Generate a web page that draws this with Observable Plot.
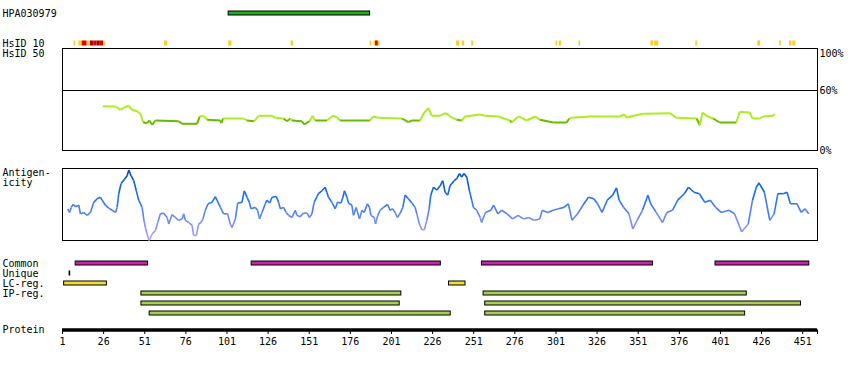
<!DOCTYPE html>
<html><head><meta charset="utf-8">
<script src="https://cdn.jsdelivr.net/npm/d3@7"></script>
<script src="https://cdn.jsdelivr.net/npm/@observablehq/plot@0.6"></script>
<style>
body{margin:0;background:#fff;}
#chart{position:relative;width:850px;height:370px;}
#chart svg{position:absolute;left:0;top:0;}
</style></head><body><div id="chart"></div>
<script>
// ---------- data ----------
const proteinLength = 459;
const antigenName = "HPA030979";
const antigenStart = 102, antigenEnd = 188;

// HsID 10 hits: start, end, level (1 = yellow, 2 = red, 3 = dark red)
const hsidStart = [8, 11, 13, 16, 18, 20, 22, 24, 26, 63, 102, 140, 188, 190.5, 191.3, 193, 240.5, 244, 249.8, 301, 303, 315, 358.7, 361, 386, 423.7, 437, 443, 445];
const hsidEnd   = [9, 13, 16, 18, 20, 22, 24, 26, 27, 65, 104, 141.5, 189, 191.3, 193, 194, 242.5, 245.5, 251, 302, 304.5, 316, 360.5, 363.5, 387, 425.5, 438, 444.5, 446.8];
const hsidLevel = [1, 1, 2, 1, 3, 2, 3, 2, 1, 1, 1, 1, 1, 1, 2, 1, 1, 1, 1, 1, 1, 1, 1, 1, 1, 1, 1, 1, 1];

// HsID 50 identity (%) along the sequence
const idRes = [25.5,33.2,36.2,38.2,41.3,43.3,46.4,48.4,50.0,52.4,53.8,55.5,57.5,71.6,73.7,82.8,84.4,86.8,88.9,97.0,97.6,98.6,111.1,113.2,117.6,120.2,128.4,130.4,135.4,137.5,139.5,140.5,146.6,148.0,151.2,153.0,154.6,161.8,165.4,167.8,169.8,188.0,189.7,193.1,207.3,211.3,213.4,218.4,220.4,223.5,225.5,230.6,233.6,235.6,236.6,240.7,243.7,245.7,254.9,257.9,266.0,273.1,274.1,278.1,280.2,283.2,288.3,291.3,299.4,307.5,309.1,310.5,321.7,339.9,342.3,344.3,347.9,354.4,370.2,374.3,386.5,388.5,390.1,392.5,396.5,400.6,410.7,412.7,418.8,420.5,424.9,426.9,433.0,434.0];
const idVal = [44.3,44,40.7,42.7,44.7,40.7,39.3,36.7,28.3,27.3,30,25.7,30,29.3,26.7,26.7,34,34.7,30.7,30,27.3,32,32,30,29.3,34.7,34.7,32.7,32,29.3,32,30,29.3,26,29.3,34.7,30,30,34.7,33.3,30,30,34,32.7,32,28.3,30,30,36.7,42.7,34.7,34.7,37.3,36,34,30.7,30,34,36,34.7,34,30,28,34,32.7,30,34,30.7,28,28,32,32.7,34,34,36,32.7,34.7,36.7,37.3,32.7,32,25.3,38,34.7,32,28,28,38.7,38,32,32,34,34.7,36.7];

// Antigenicity profile
const agRes = [4.2,5.3,6.3,7.5,8.9,10.9,11.9,13.9,16.0,18.0,20.0,22.1,24.1,25.1,27.1,29.1,31.2,33.2,34.2,35.2,36.6,38.7,40.3,41.3,42.7,44.3,45.9,47.3,49.4,50.4,51.4,52.4,53.7,55.5,57.5,58.9,60.5,62.5,64.6,65.6,67.6,69.6,71.6,73.7,74.7,75.7,77.7,79.8,80.7,82.4,83.8,85.2,86.4,87.8,89.5,91.9,93.9,94.9,97.0,99.0,101.4,103.0,104.1,106.1,107.5,110.1,111.5,113.2,114.6,115.6,118.2,119.6,120.8,122.3,124.3,125.3,126.9,128.4,131.0,132.4,133.4,135.4,137.0,138.4,140.5,142.5,143.5,145.5,147.5,149.6,151.2,152.6,154.0,155.7,156.6,158.7,160.7,161.7,162.7,164.8,166.8,168.2,170.3,171.5,172.4,173.9,174.9,176.9,177.9,179.5,181.6,183.0,184.4,186.4,187.6,188.5,190.5,191.3,192.7,194.1,196.1,198.6,200.2,201.8,203.2,204.6,206.3,207.9,209.3,211.3,213.4,215.4,216.4,218.0,219.4,221.0,222.5,223.9,224.9,226.5,228.6,230.6,232.2,233.6,235.2,236.6,239.1,240.7,242.3,243.7,245.1,246.8,248.4,249.8,250.8,252.8,254.9,255.8,258.1,261.4,263.1,265.7,268.0,271.3,274.6,277.9,281.2,284.4,287.8,291.1,292.7,296.0,299.3,302.6,305.9,308.5,310.8,314.1,317.4,320.7,324.0,326.3,329.0,332.2,335.5,337.8,339.4,342.1,345.4,347.7,350.3,353.6,356.9,358.6,361.9,365.8,368.4,371.8,375.0,379.0,381.6,384.9,388.2,391.5,394.8,398.1,401.4,406.3,409.6,413.9,417.9,420.5,422.8,424.4,427.7,431.0,433.6,435.9,439.2,441.5,443.5,447.5,450.1,452.4,454.7];
const agVal = [0.44,0.39,0.46,0.50,0.47,0.49,0.37,0.39,0.35,0.39,0.53,0.58,0.60,0.56,0.49,0.45,0.42,0.39,0.46,0.65,0.79,0.85,0.90,0.98,0.90,0.83,0.69,0.56,0.46,0.30,0.18,0.09,0.00,0.09,0.14,0.25,0.37,0.38,0.32,0.23,0.36,0.32,0.28,0.30,0.37,0.28,0.25,0.21,0.07,0.07,0.23,0.25,0.30,0.42,0.51,0.53,0.61,0.56,0.46,0.37,0.37,0.23,0.18,0.30,0.52,0.53,0.69,0.60,0.53,0.44,0.46,0.42,0.30,0.39,0.51,0.56,0.52,0.60,0.61,0.53,0.44,0.46,0.39,0.35,0.32,0.42,0.35,0.33,0.38,0.38,0.32,0.37,0.53,0.61,0.65,0.69,0.74,0.67,0.60,0.53,0.44,0.53,0.52,0.60,0.69,0.60,0.52,0.49,0.35,0.46,0.30,0.42,0.39,0.51,0.46,0.35,0.32,0.23,0.35,0.42,0.46,0.50,0.42,0.44,0.39,0.32,0.38,0.46,0.63,0.58,0.52,0.46,0.37,0.23,0.15,0.15,0.28,0.44,0.63,0.74,0.70,0.76,0.83,0.67,0.63,0.76,0.83,0.86,0.93,0.88,0.93,0.88,0.69,0.56,0.46,0.42,0.32,0.25,0.39,0.42,0.49,0.37,0.42,0.37,0.30,0.35,0.30,0.32,0.28,0.30,0.42,0.39,0.42,0.44,0.46,0.51,0.28,0.37,0.49,0.60,0.58,0.51,0.39,0.56,0.63,0.73,0.56,0.46,0.37,0.16,0.28,0.42,0.63,0.51,0.39,0.25,0.39,0.42,0.56,0.65,0.74,0.67,0.65,0.53,0.56,0.46,0.39,0.42,0.37,0.12,0.23,0.56,0.74,0.80,0.67,0.28,0.37,0.65,0.65,0.67,0.51,0.51,0.39,0.44,0.37];

// Region tracks
const trackNames  = ["Common", "Unique", "LC-reg.", "IP-reg."];
const regionTrack = ["Common","Common","Common","Common","LC-reg.","LC-reg.","IP-reg. 1","IP-reg. 1","IP-reg. 2","IP-reg. 2","IP-reg. 3","IP-reg. 3"];
const regionType  = ["Common","Common","Common","Common","LC-reg.","LC-reg.","IP-reg.","IP-reg.","IP-reg.","IP-reg.","IP-reg.","IP-reg."];
const regionStart = [9, 116, 256, 398, 2, 236, 49, 257, 49, 258, 54, 258];
const regionEnd   = [53, 231, 360, 455, 28, 246, 207, 417, 206, 450, 237, 416];
const uniqueStart = [5], uniqueEnd = [6];

const proteinTicks = [1,26,51,76,101,126,151,176,201,226,251,276,301,326,351,376,401,426,451];

// ---------- drawing ----------
const chart = document.getElementById("chart");
const base = () => ({
  width: 850, height: 370, marginLeft: 62, marginRight: 33,
  x: {domain: [1, proteinLength + 1], axis: null},
  style: {background: "transparent", fontFamily: "DejaVu Sans Mono", fontSize: "10px", color: "black", overflow: "visible"}
});
const labelOpts = {frameAnchor: "left", dx: -60, textAnchor: "start", fill: "black"};

// Panel A: antigen + HsID 10
const hsid = hsidStart.map((s, i) => ({start: s, end: hsidEnd[i], level: hsidLevel[i]}));
chart.append(Plot.plot({
  ...base(),
  y: {type: "band", domain: [antigenName, "HsID 10"], range: [-2.5, 57.5], padding: 0, axis: null},
  color: {type: "ordinal", domain: [1, 2, 3], range: ["#ffcc22", "#dd0000", "#aa0000"]},
  marks: [
    Plot.barX([{start: antigenStart, end: antigenEnd}], {x1: "start", x2: "end", y: () => antigenName, fill: "#22aa22", stroke: "black", insetTop: 13, insetBottom: 13}),
    Plot.barX(hsid, {x1: "start", x2: "end", y: () => "HsID 10", fill: "level", insetTop: 12.5, insetBottom: 12.5}),
    Plot.text([antigenName, "HsID 10"], {y: d => d, text: d => d, ...labelOpts})
  ]
}));

// Panel B: HsID 50 identity
const idSegs = idRes.slice(1).map((r, i) => ({x1: idRes[i], x2: r, y1: idVal[i], y2: idVal[i + 1], v: (idVal[i] + idVal[i + 1]) / 2}));
chart.append(Plot.plot({
  ...base(),
  marginTop: 48, marginBottom: 220,
  y: {domain: [0, 102], axis: null},
  color: {type: "threshold", domain: [31], range: ["#66bb00", "#aaee22"]},
  marks: [
    Plot.frame({stroke: "black"}),
    Plot.ruleY([60], {stroke: "black"}),
    Plot.link(idSegs, {x1: "x1", x2: "x2", y1: "y1", y2: "y2", stroke: "v", strokeWidth: 2}),
    Plot.text(["HsID 50"], {text: d => d, frameAnchor: "top-left", dx: -60, dy: 5, lineAnchor: "middle", textAnchor: "start", fill: "black"}),
    Plot.text([0, 60], {y: d => d, text: d => d + "%", frameAnchor: "right", dx: 2, textAnchor: "start", fill: "black"}),
    Plot.text([100], {y: d => d, text: d => d + "%", frameAnchor: "right", dx: 2, dy: 3, textAnchor: "start", fill: "black"})
  ]
}));

// Panel C: antigenicity
const agSegs = agRes.slice(1).map((r, i) => ({x1: agRes[i], x2: r, y1: agVal[i], y2: agVal[i + 1], v: (agVal[i] + agVal[i + 1]) / 2}));
chart.append(Plot.plot({
  ...base(),
  marginTop: 168, marginBottom: 130,
  y: {domain: [0, 1], axis: null},
  color: {type: "linear", domain: [0, 0.3, 0.6, 1], range: ["#b4a4ff", "#6f8cf0", "#1a70f0", "#0048b8"]},
  marks: [
    Plot.frame({stroke: "black"}),
    Plot.link(agSegs, {x1: "x1", x2: "x2", y1: "y1", y2: "y2", stroke: "v", strokeWidth: 1.6}),
    Plot.text(["Antigen-\nicity"], {text: d => d, frameAnchor: "top-left", dx: -60, dy: 0.6, lineAnchor: "top", textAnchor: "start", lineHeight: 1, fill: "black"})
  ]
}));

// Panel D: region tracks
const regions = regionStart.map((s, i) => ({start: s, end: regionEnd[i], track: regionTrack[i], type: regionType[i]}));
const uniques = uniqueStart.map((s, i) => ({start: s, end: uniqueEnd[i]}));
const trackDomain = ["Common", "Unique", "LC-reg.", "IP-reg. 1", "IP-reg. 2", "IP-reg. 3"];
chart.append(Plot.plot({
  ...base(),
  y: {type: "band", domain: trackDomain, range: [257.5, 317.5], padding: 0, axis: null},
  color: {type: "ordinal", domain: ["Common", "LC-reg.", "IP-reg."], range: ["#cc22aa", "#eedd33", "#aacc55"]},
  marks: [
    Plot.barX(regions, {x1: "start", x2: "end", y: "track", fill: "type", stroke: "black", insetTop: 3, insetBottom: 3}),
    Plot.barX(uniques, {x1: "start", x2: "end", y: () => "Unique", fill: "black", insetTop: 2.5, insetBottom: 2.5}),
    Plot.text(trackNames, {y: d => d === "IP-reg." ? "IP-reg. 1" : d, text: d => d, ...labelOpts})
  ]
}));

// Panel E: protein axis
chart.append(Plot.plot({
  ...base(),
  marginTop: 325.5, marginBottom: 40.5,
  y: {domain: [0, 1], axis: null},
  marks: [
    Plot.ruleY([0], {stroke: "black", strokeWidth: 3.5}),
    Plot.axisX({anchor: "bottom", ticks: [...proteinTicks, proteinLength + 1], tickFormat: d => proteinTicks.includes(d) ? String(d) : "", tickSize: 4.5, tickPadding: 3, fill: "black", stroke: "black"}),
    Plot.text(["Protein"], {text: d => d, frameAnchor: "bottom-left", dx: -60, textAnchor: "start", lineAnchor: "middle", fill: "black"})
  ]
}));
</script></body></html>
